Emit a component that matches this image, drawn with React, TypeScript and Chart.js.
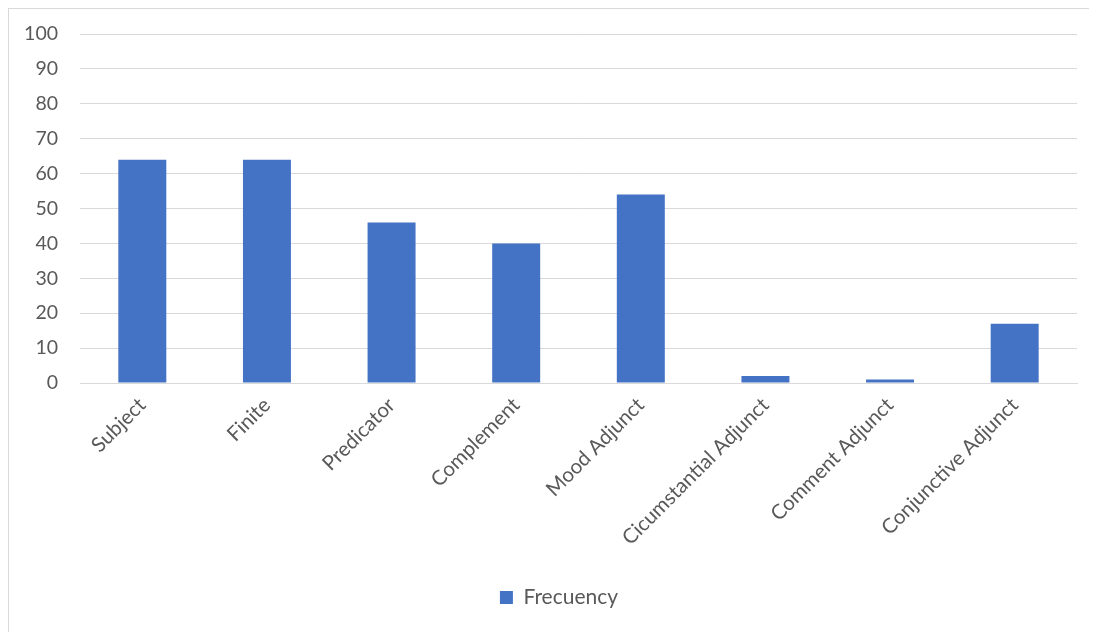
import React, { useEffect, useRef } from "react";
import { Chart, registerables } from "chart.js";

Chart.register(...registerables);

const categories = [
  "Subject",
  "Finite",
  "Predicator",
  "Complement",
  "Mood Adjunct",
  "Cicumstantial Adjunct",
  "Comment Adjunct",
  "Conjunctive Adjunct",
];
const frecuency = [64, 64, 46, 40, 54, 2, 1, 17];
const seriesName = "Frecuency";
const yMin = 0;
const yMax = 100;
const yStep = 10;

const FONT = "Lato, 'Open Sans', sans-serif";
const TEXT = "#595959";
const GRID = "#d9d9d9";
const BAR = "#4472C4";

const shiftLegend = {
  id: "shiftLegend",
  afterLayout(chart: any) {
    const l = chart.legend;
    if (l) {
      l.left += 16;
      l.right += 16;
    }
  },
};

export default function App() {
  const ref = useRef<HTMLCanvasElement | null>(null);

  useEffect(() => {
    if (!ref.current) return;
    const chart = new Chart(ref.current, {
      type: "bar",
      data: {
        labels: categories,
        datasets: [
          {
            label: seriesName,
            data: frecuency,
            backgroundColor: BAR,
            borderWidth: 0,
            categoryPercentage: 1,
            barPercentage: 0.385,
          },
        ],
      },
      options: {
        animation: false,
        responsive: false,
        maintainAspectRatio: false,
        layout: { padding: { top: 25, right: 20, bottom: 14, left: 0 } },
        plugins: {
          tooltip: { enabled: false },
          legend: {
            position: "bottom",
            labels: {
              color: TEXT,
              font: { family: FONT, size: 21 },
              boxWidth: 13,
              boxHeight: 13,
              padding: 12,
            },
          },
        },
        scales: {
          x: {
            grid: { display: false, drawTicks: false },
            border: { display: true, color: GRID, width: 1 },
            ticks: {
              color: TEXT,
              font: { family: FONT, size: 20.5 },
              minRotation: 45,
              maxRotation: 45,
              padding: 10,
              autoSkip: false,
            },
            afterFit: (scale: any) => {
              scale.height = 192;
            },
          },
          y: {
            min: yMin,
            max: yMax,
            grid: { color: GRID, lineWidth: 1, drawTicks: false },
            border: { display: false },
            ticks: {
              stepSize: yStep,
              color: TEXT,
              font: { family: FONT, size: 19.5 },
              padding: 22,
            },
            afterFit: (scale: any) => {
              scale.width = 71;
              scale.paddingTop = 10;
              scale.paddingBottom = 10;
            },
          },
        },
      },
      plugins: [shiftLegend],
    });
    return () => chart.destroy();
  }, []);

  return (
    <div
      style={{
        width: 1089,
        height: 624,
        borderLeft: "1px solid #d9d9d9",
        borderTop: "1px solid #d9d9d9",
        boxSizing: "border-box",
        background: "#fff",
      }}
    >
      <canvas ref={ref} width={1088} height={623} style={{ display: "block" }} />
    </div>
  );
}
